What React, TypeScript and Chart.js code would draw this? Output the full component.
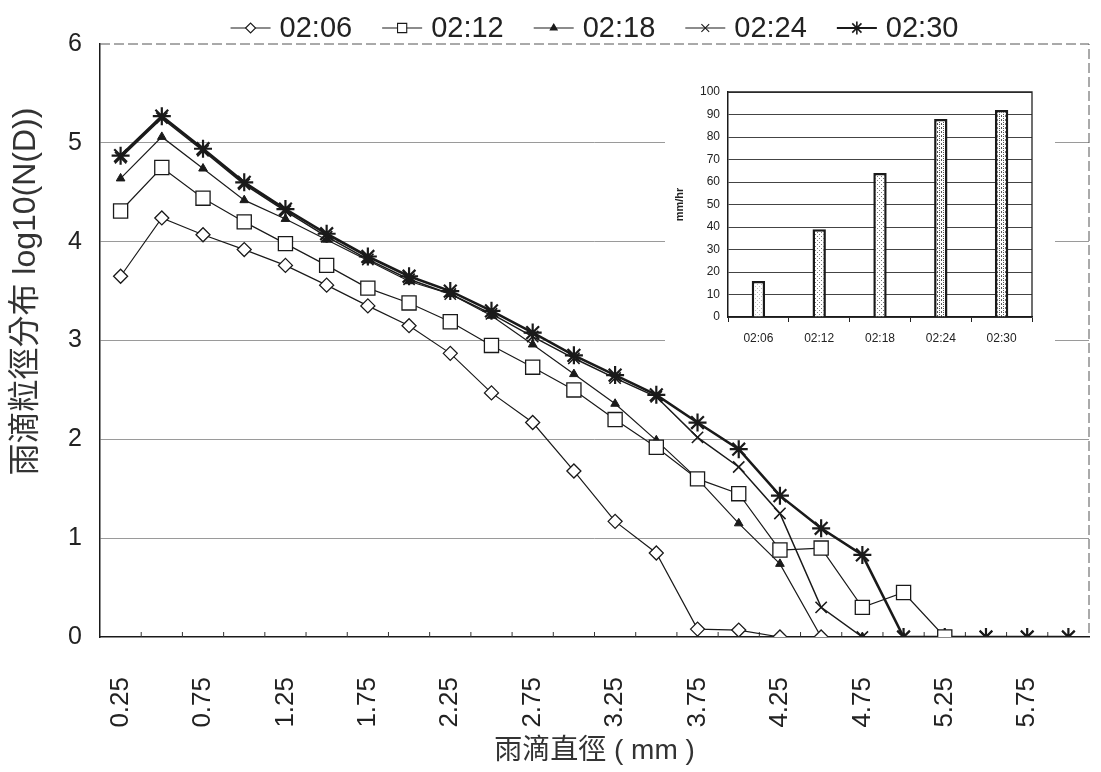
import React, { useEffect, useRef } from 'react';
import { Chart, registerables } from 'chart.js';
import { drawPoint } from 'chart.js/helpers';

Chart.register(...registerables);

// ---------- data ----------
const diameterLabels = [
  '0.25', '0.50', '0.75', '1.00', '1.25', '1.50', '1.75', '2.00',
  '2.25', '2.50', '2.75', '3.00', '3.25', '3.50', '3.75', '4.00',
  '4.25', '4.50', '4.75', '5.00', '5.25', '5.50', '5.75', '6.00',
];
const seriesNames = ['02:06', '02:12', '02:18', '02:24', '02:30'];
const s0206 = [3.65, 4.24, 4.07, 3.92, 3.76, 3.56, 3.35, 3.15, 2.87, 2.47, 2.17, 1.68, 1.17, 0.85, 0.08, 0.07, 0, 0, null, null, null, null, null, null];
const s0212 = [4.31, 4.75, 4.44, 4.2, 3.98, 3.76, 3.53, 3.38, 3.19, 2.95, 2.73, 2.5, 2.2, 1.92, 1.6, 1.45, 0.88, 0.9, 0.3, 0.45, 0, null, null, null];
const s0218 = [4.64, 5.06, 4.74, 4.42, 4.23, 4.02, 3.81, 3.6, 3.47, 3.25, 2.96, 2.66, 2.36, 1.99, 1.6, 1.15, 0.74, 0, 0, 0, null, null, null, null];
const s0224 = [4.85, 5.25, 4.92, 4.58, 4.31, 4.05, 3.82, 3.62, 3.47, 3.27, 3.04, 2.82, 2.62, 2.43, 2.02, 1.72, 1.25, 0.3, 0, 0, 0, 0, 0, 0];
const s0230 = [4.87, 5.27, 4.94, 4.6, 4.33, 4.08, 3.85, 3.65, 3.5, 3.3, 3.08, 2.85, 2.65, 2.45, 2.17, 1.9, 1.43, 1.1, 0.83, 0, 0, 0, 0, 0];
const seriesValues = [s0206, s0212, s0218, s0224, s0230];

const rainTimes = ['02:06', '02:12', '02:18', '02:24', '02:30'];
const rainRates = [16, 39, 64, 88, 92];

// ---------- styles ----------
const LATIN = '"Liberation Sans", Arial, sans-serif';
const CJK = '"Liberation Sans", "Noto Sans CJK TC", sans-serif';
const INK = '#1a1a1a';

const seriesStyles = [
  { pointStyle: 'rectRot', radius: 7, fill: '#ffffff', line: 1.2, pbw: 1.3 },
  { pointStyle: 'rect', radius: 10, fill: '#ffffff', line: 1.2, pbw: 1.3 },
  { pointStyle: 'triangle', radius: 5, fill: INK, line: 1.2, pbw: 1 },
  { pointStyle: 'crossRot', radius: 8, fill: INK, line: 1.5, pbw: 1.6 },
  { pointStyle: 'star', radius: 9, fill: INK, line: 2.6, pbw: 2.2 },
];
const legendMarkerRadius = [5, 6.5, 4, 5.5, 6.5];

const lineLegendPlugin = {
  id: 'lineLegend',
  afterDraw(chart: any) {
    const { ctx, chartArea } = chart;
    ctx.save();
    ctx.font = `29px ${LATIN}`;
    const iconW = 40;
    const gap = 9;
    const spacing = 30;
    const items = chart.data.datasets.map((ds: any) => ({
      ds,
      w: iconW + gap + ctx.measureText(ds.label).width,
    }));
    const total = items.reduce((a: number, it: any) => a + it.w, 0) + spacing * (items.length - 1);
    let x = (chartArea.left + chartArea.right) / 2 - total / 2;
    const y = 28;
    items.forEach((it: any, i: number) => {
      const st = seriesStyles[i];
      ctx.strokeStyle = INK;
      ctx.lineWidth = i === 4 ? 1.8 : 1.1;
      ctx.beginPath();
      ctx.moveTo(x, y);
      ctx.lineTo(x + iconW, y);
      ctx.stroke();
      ctx.fillStyle = st.fill;
      ctx.strokeStyle = INK;
      ctx.lineWidth = i === 4 ? 1.6 : 1.1;
      drawPoint(ctx, { pointStyle: st.pointStyle as any, radius: legendMarkerRadius[i], rotation: 0, borderWidth: 1 } as any, x + iconW / 2, y);
      ctx.fillStyle = '#222';
      ctx.textAlign = 'left';
      ctx.textBaseline = 'middle';
      ctx.fillText(it.ds.label, x + iconW + gap, y + 1);
      x += it.w + spacing;
    });
    ctx.restore();
  },
};

const mainFramePlugin = {
  id: 'mainFrame',
  beforeDatasetsDraw(chart: any) {
    const { ctx, chartArea: a, scales } = chart;
    ctx.save();
    ctx.strokeStyle = '#555';
    ctx.lineWidth = 1;
    ctx.setLineDash([10, 4]);
    ctx.beginPath();
    ctx.moveTo(a.left, a.top);
    ctx.lineTo(a.right, a.top);
    ctx.lineTo(a.right, a.bottom);
    ctx.stroke();
    ctx.setLineDash([]);
    // small inward tick marks between categories
    const xs = scales.x;
    const n = diameterLabels.length;
    const half = (xs.getPixelForValue(1) - xs.getPixelForValue(0)) / 2;
    ctx.strokeStyle = '#333';
    ctx.beginPath();
    for (let i = 0; i < n - 1; i++) {
      const px = xs.getPixelForValue(i) + half;
      ctx.moveTo(px, a.bottom);
      ctx.lineTo(px, a.bottom - 5);
    }
    ctx.stroke();
    ctx.restore();
  },
};

const insetFramePlugin = {
  id: 'insetFrame',
  afterDatasetsDraw(chart: any) {
    const { ctx, chartArea: a } = chart;
    ctx.save();
    ctx.strokeStyle = '#222';
    ctx.lineWidth = 1.3;
    ctx.beginPath();
    ctx.moveTo(a.left, a.top);
    ctx.lineTo(a.right, a.top);
    ctx.lineTo(a.right, a.bottom);
    ctx.stroke();
    ctx.restore();
  },
};

function makeDots(ctx: CanvasRenderingContext2D, dot: string, dense: boolean) {
  const c = document.createElement('canvas');
  c.width = 4;
  c.height = 4;
  const g = c.getContext('2d')!;
  g.fillStyle = '#ffffff';
  g.fillRect(0, 0, 4, 4);
  g.fillStyle = dot;
  g.fillRect(0, 0, 1, 1);
  g.fillRect(2, 2, 1, 1);
  if (dense) {
    g.fillRect(2, 0, 1, 1);
    g.fillRect(0, 3, 1, 1);
  }
  return ctx.createPattern(c, 'repeat');
}

export default function App() {
  const mainRef = useRef<HTMLCanvasElement>(null);
  const insetRef = useRef<HTMLCanvasElement>(null);

  useEffect(() => {
    const main = new Chart(mainRef.current!, {
      type: 'line',
      data: {
        labels: diameterLabels,
        datasets: seriesNames.map((name, i) => ({
          label: name,
          data: seriesValues[i],
          borderColor: INK,
          borderWidth: seriesStyles[i].line,
          pointStyle: seriesStyles[i].pointStyle as any,
          pointRadius: seriesStyles[i].radius,
          pointBackgroundColor: seriesStyles[i].fill,
          pointBorderColor: INK,
          pointBorderWidth: seriesStyles[i].pbw,
          tension: 0,
          spanGaps: false,
          fill: false,
        })),
      },
      options: {
        responsive: false,
        animation: false,
        layout: { padding: { top: 44, left: 0, right: 12, bottom: 0 } },
        plugins: {
          legend: { display: false },
          tooltip: { enabled: false },
        },
        scales: {
          x: {
            type: 'category',
            offset: true,
            grid: { display: false },
            border: { display: true, color: INK, width: 1.5 },
            ticks: {
              autoSkip: false,
              minRotation: 90,
              maxRotation: 90,
              padding: 32,
              color: '#222',
              font: { size: 26, family: LATIN },
              callback: (_v: any, i: number) => (i % 2 === 0 ? diameterLabels[i] : ''),
            },
            title: {
              display: true,
              text: '雨滴直徑 ( mm )',
              color: '#333',
              font: { size: 28, family: CJK },
              padding: { top: 0, bottom: 4 },
            },
            afterFit: (s: any) => {
              s.height = 135;
              s.paddingLeft = 0;
              s.paddingRight = 0;
            },
          },
          y: {
            min: 0,
            max: 6,
            ticks: {
              stepSize: 1,
              padding: 18,
              color: '#222',
              font: { size: 25, family: LATIN },
            },
            grid: {
              drawTicks: false,
              lineWidth: 1,
              color: (c: any) => (c.tick && (c.tick.value === 0 || c.tick.value === 6) ? 'rgba(0,0,0,0)' : '#9a9a9a'),
            },
            border: { display: true, color: INK, width: 1.5 },
            title: {
              display: true,
              text: '           雨滴粒徑分布 log10(N(D))',
              color: '#333',
              font: { size: 32, family: CJK },
              padding: { top: 7, bottom: 0 },
            },
            afterFit: (s: any) => {
              s.width = 100;
            },
          },
        },
      },
      plugins: [mainFramePlugin, lineLegendPlugin],
    } as any);

    const ictx = insetRef.current!.getContext('2d')!;
    const light = makeDots(ictx, '#bbbbbb', false);
    const mid = makeDots(ictx, '#777777', false);
    const dark = makeDots(ictx, '#555555', true);

    const inset = new Chart(insetRef.current!, {
      type: 'bar',
      data: {
        labels: rainTimes,
        datasets: [
          {
            label: 'mm/hr',
            data: rainRates,
            backgroundColor: [light, mid, mid, dark, dark] as any,
            borderColor: INK,
            borderWidth: 2.5,
            barPercentage: 0.22,
            categoryPercentage: 1,
          },
        ],
      },
      options: {
        responsive: false,
        animation: false,
        layout: { padding: { top: 20, left: 0, right: 23, bottom: 0 } },
        plugins: { legend: { display: false }, tooltip: { enabled: false } },
        scales: {
          x: {
            grid: { display: true, drawOnChartArea: false, drawTicks: true, tickLength: 5, color: '#222' },
            border: { display: true, color: INK, width: 1.5 },
            ticks: { color: '#222', padding: 9, font: { size: 12, family: LATIN } },
            afterFit: (s: any) => {
              s.height = 45;
              s.paddingLeft = 0;
              s.paddingRight = 0;
            },
          },
          y: {
            min: 0,
            max: 100,
            ticks: { stepSize: 10, padding: 8, color: '#222', font: { size: 12, family: LATIN } },
            grid: { drawTicks: false, color: '#444', lineWidth: 1 },
            border: { display: true, color: INK, width: 1.5 },
            title: {
              display: true,
              text: 'mm/hr',
              color: '#222',
              font: { size: 11, family: LATIN, weight: 'bold' },
              padding: { top: 8, bottom: 0 },
            },
            afterFit: (s: any) => {
              s.width = 63;
            },
          },
        },
      },
      plugins: [insetFramePlugin],
    } as any);

    return () => {
      main.destroy();
      inset.destroy();
    };
  }, []);

  return (
    <div style={{ position: 'fixed', left: 0, top: 0, width: 1101, height: 772, background: '#ffffff' }}>
      <canvas
        ref={mainRef}
        width={1101}
        height={772}
        style={{ position: 'absolute', left: 0, top: 0, width: 1101, height: 772 }}
      />
      <canvas
        ref={insetRef}
        width={390}
        height={290}
        style={{ position: 'absolute', left: 665, top: 72, width: 390, height: 290, background: '#ffffff' }}
      />
    </div>
  );
}
